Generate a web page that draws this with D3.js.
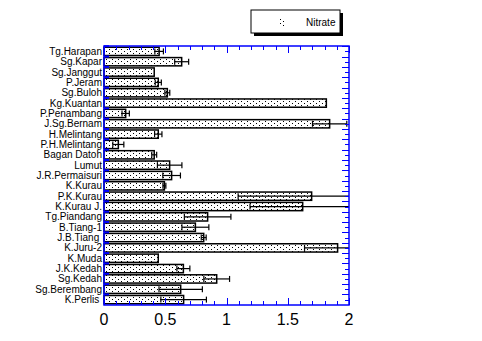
<!DOCTYPE html>
<html><head><meta charset="utf-8">
<script src="https://cdn.jsdelivr.net/npm/d3@7"></script>
<style>
html,body{margin:0;padding:0;background:#fff;}
svg{display:block;font-family:"Liberation Sans",Arial,sans-serif;}
</style></head>
<body><svg id="c" width="482" height="341"></svg>
<script>
const categories = ["Tg.Harapan","Sg.Kapar","Sg.Janggut","P.Jeram","Sg.Buloh","Kg.Kuantan","P.Penambang","J.Sg.Bernam","H.Melintang","P.H.Melintang","Bagan Datoh","Lumut","J.R.Permaisuri","K.Kurau","P.K.Kurau","K.Kurau J.","Tg.Piandang","B.Tiang-1","J.B.Tiang ","K.Juru-2","K.Muda","J.K.Kedah","Sg.Kedah","Sg.Berembang","K.Perlis "];
const nitrate = [0.45,0.634,0.41,0.443,0.517,1.815,0.177,1.842,0.443,0.117,0.41,0.536,0.552,0.493,1.695,1.622,0.846,0.746,0.814,1.907,0.443,0.648,0.92,0.626,0.65];
const nitrateErr = [0.035,0.057,0,0.025,0.02,0,0.03,0.14,0.03,0.045,0.02,0.1,0.072,0.012,0.6,0.43,0.19,0.11,0.02,0.27,0,0.053,0.105,0.177,0.186];
const xTicks = [0,0.5,1,1.5,2];
const seriesName = "Nitrate";

const svg = d3.select("#c");
const L=104, R=349, T=46, B=305;
const x = d3.scaleLinear().domain([0,2]).range([L,R]);
const y = d3.scaleBand().domain(categories).range([T,B]).paddingInner(0.2).paddingOuter(0.12);
const step = y.step();
const blue = "#0000ff";

const defs = svg.append("defs");
const pat = defs.append("pattern").attr("id","dots").attr("patternUnits","userSpaceOnUse")
  .attr("width",6).attr("height",4);
pat.append("rect").attr("width",6).attr("height",4).attr("fill","#fff");
pat.append("rect").attr("x",1).attr("y",1).attr("width",1).attr("height",1).attr("fill","#000");
pat.append("rect").attr("x",4).attr("y",3).attr("width",1).attr("height",1).attr("fill","#000");
defs.append("clipPath").attr("id","plotclip").append("rect")
  .attr("x",L).attr("y",T).attr("width",R-L).attr("height",B-T);

const data = categories.map((c,i)=>({c, v:nitrate[i], e:nitrateErr[i]}));

// bars
svg.append("g").selectAll("rect").data(data).join("rect")
  .attr("x",x(0)).attr("y",d=>y(d.c))
  .attr("width",d=>x(d.v)-x(0)).attr("height",y.bandwidth())
  .attr("fill","url(#dots)").attr("stroke","#000").attr("stroke-width",1.5);

// error bars
const eg = svg.append("g").attr("clip-path","url(#plotclip)").attr("stroke","#000").attr("stroke-width",1.2);
data.filter(d=>d.e>0).forEach(d=>{
  const cy = y(d.c)+y.bandwidth()/2;
  const lo = d.v-d.e, hi = d.v+d.e;
  eg.append("line").attr("x1",x(lo)).attr("x2",x(hi)).attr("y1",cy).attr("y2",cy);
  [lo,hi].forEach(v=>{
    if(v<=2) eg.append("line").attr("x1",x(v)).attr("x2",x(v)).attr("y1",cy-3).attr("y2",cy+3);
  });
});

// frame
svg.append("rect").attr("x",L).attr("y",T).attr("width",R-L).attr("height",B-T)
  .attr("fill","none").attr("stroke",blue).attr("stroke-width",1.5);

// x ticks (inward, top & bottom)
const minor = d3.range(0,2.0001,0.1);
const tg = svg.append("g").attr("stroke",blue).attr("stroke-width",1);
minor.forEach(v=>{
  const major = Math.abs(v*2-Math.round(v*2))<1e-6;
  const len = major?7:4;
  const px = Math.round(x(v))+0.5;
  tg.append("line").attr("x1",px).attr("x2",px).attr("y1",B).attr("y2",B-len);
  tg.append("line").attr("x1",px).attr("x2",px).attr("y1",T).attr("y2",T+len);
});
// y ticks
categories.forEach((c,i)=>{
  const yb = y(c) - step*y.paddingInner()/2;
  const yc = y(c) + y.bandwidth()/2;
  tg.append("line").attr("x1",L).attr("x2",L+5).attr("y1",yb).attr("y2",yb).attr("stroke-width",2);
  tg.append("line").attr("x1",R).attr("x2",R-7).attr("y1",Math.round(yb)+0.5).attr("y2",Math.round(yb)+0.5);
  tg.append("line").attr("x1",R).attr("x2",R-4).attr("y1",Math.round(yc)+0.5).attr("y2",Math.round(yc)+0.5);
});

// x tick labels
svg.append("g").selectAll("text").data(xTicks).join("text")
  .attr("x",d=>x(d)).attr("y",325).attr("text-anchor","middle")
  .attr("font-size",16).attr("fill","#000").text(d=>d3.format("")(d));

// category labels
svg.append("g").selectAll("text").data(categories).join("text")
  .attr("x",102).attr("y",c=>y(c)+y.bandwidth()/2).attr("dy","0.35em")
  .attr("text-anchor","end").attr("font-size",10).attr("fill","#000")
  .style("white-space","pre").text(c=>c);

// legend
const lg = svg.append("g");
lg.append("rect").attr("x",254).attr("y",13).attr("width",89).attr("height",23).attr("fill","#000");
lg.append("rect").attr("x",251).attr("y",10).attr("width",89).attr("height",23).attr("fill","#fff").attr("stroke","#000").attr("stroke-width",1);
lg.append("rect").attr("x",278).attr("y",18).attr("width",8).attr("height",8).attr("fill","url(#dots)");
lg.append("text").attr("x",306).attr("y",22).attr("dy","0.35em").attr("font-size",10).attr("fill","#000").text(seriesName);
</script></body></html>
